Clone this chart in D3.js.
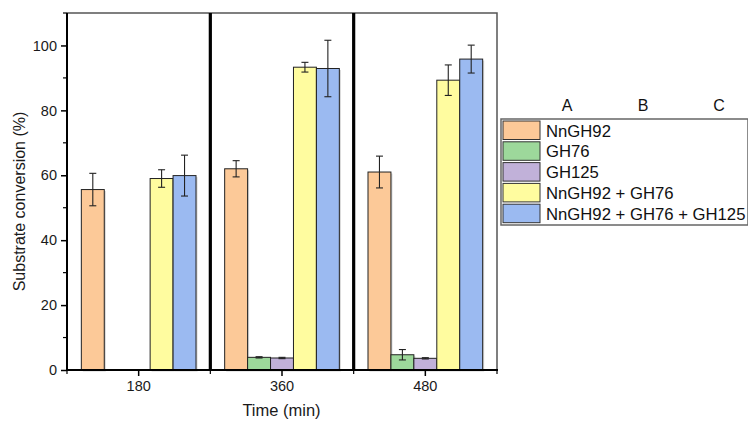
<!DOCTYPE html>
<html>
<head>
<meta charset="utf-8">
<script src="https://cdn.jsdelivr.net/npm/d3@7"></script>
<style>
  body { margin: 0; background: #fff; }
  svg { font-family: "Liberation Sans", Arial, sans-serif; }
</style>
</head>
<body>
<svg id="chart" width="748" height="422"></svg>
<script>
// data
let times = ["180", "360", "480"];
let series = ["NnGH92", "GH76", "GH125", "NnGH92 + GH76", "NnGH92 + GH76 + GH125"];
let colours = ["#fcc998", "#9dd89b", "#c1b1d9", "#fffc9f", "#9bbaf1"];
let means = [
  [55.6, 0, 0, 59.0, 59.9],
  [62.0, 3.9, 3.7, 93.3, 92.9],
  [61.0, 4.7, 3.6, 89.3, 95.8]
];
let errs = [
  [5.0, 0, 0, 2.7, 6.3],
  [2.5, 0.2, 0.2, 1.5, 8.7],
  [4.9, 1.6, 0.2, 4.7, 4.3]
];
let yTicks = [0, 20, 40, 60, 80, 100];
let yMinor = [10, 30, 50, 70, 90, 110];
let legendHeads = ["A", "B", "C"];

window.onload = function() {
  setupChart();
}

function setupChart() {
  let svg = d3.select('#chart');
  let left = 67, right = 497, top = 13, bottom = 370;

  let x = d3.scaleBand().domain(times).range([left, right]).padding(0);
  // bars take ~80% of each group
  let inner = d3.scaleBand().domain(d3.range(series.length))
    .range([x.bandwidth() * 0.1, x.bandwidth() * 0.9]).padding(0);
  let y = d3.scaleLinear().domain([0, 110]).range([bottom, top]);

  // frame (top and right, thin grey)
  svg.append('path')
    .attr('d', `M${left},${top}H${right}V${bottom}`)
    .attr('fill', 'none').attr('stroke', '#555').attr('stroke-width', 1.5);

  // bars
  let groups = svg.selectAll('.grp')
    .data(times)
    .enter().append('g')
    .attr('class', 'grp')
    .attr('transform', d => `translate(${x(d)},0)`);

  groups.each(function(t, gi) {
    let g = d3.select(this);
    let rows = series.map((s, si) => ({si: si, v: means[gi][si], e: errs[gi][si]}));
    let drawn = rows.filter(r => r.v > 0);

    // soft shadow
    g.selectAll('.shadow').data(drawn).enter().append('rect')
      .attr('x', r => inner(r.si) + 1.5)
      .attr('y', r => y(r.v) + 1.5)
      .attr('width', inner.bandwidth())
      .attr('height', r => bottom - y(r.v))
      .attr('fill', '#d4d4d4');

    g.selectAll('.bar').data(drawn).enter().append('rect')
      .attr('x', r => inner(r.si))
      .attr('y', r => y(r.v))
      .attr('width', inner.bandwidth())
      .attr('height', r => bottom - y(r.v))
      .attr('fill', r => colours[r.si])
      .attr('stroke', '#222')
      .attr('stroke-width', 1);

    // error bars
    let eb = g.selectAll('.err').data(drawn).enter().append('g')
      .attr('stroke', '#222').attr('stroke-width', 1.1);
    let cx = r => inner(r.si) + inner.bandwidth() / 2;
    eb.append('line')
      .attr('x1', cx).attr('x2', cx)
      .attr('y1', r => y(r.v + r.e)).attr('y2', r => y(r.v - r.e));
    eb.append('line')
      .attr('x1', r => cx(r) - 3.5).attr('x2', r => cx(r) + 3.5)
      .attr('y1', r => y(r.v + r.e)).attr('y2', r => y(r.v + r.e));
    eb.append('line')
      .attr('x1', r => cx(r) - 3.5).attr('x2', r => cx(r) + 3.5)
      .attr('y1', r => y(r.v - r.e)).attr('y2', r => y(r.v - r.e));
  });

  // thick separators between groups
  svg.selectAll('.sep')
    .data(times.slice(1))
    .enter().append('line')
    .attr('x1', d => x(d)).attr('x2', d => x(d))
    .attr('y1', top).attr('y2', bottom)
    .attr('stroke', '#000').attr('stroke-width', 3.2);

  // y axis
  let yAxis = d3.axisLeft(y).tickValues(yTicks).tickSize(6).tickPadding(4);
  let ya = svg.append('g').attr('transform', `translate(${left},0)`).call(yAxis);
  ya.select('.domain').attr('stroke-width', 2).attr('d', `M0,${top}V${bottom + 1}`);
  ya.selectAll('.tick line').attr('stroke-width', 1.5);
  ya.selectAll('.tick text').attr('font-size', 14.5).attr('fill', '#1a1a1a')
    .attr('font-family', '"Liberation Sans", Arial, sans-serif');
  svg.append('g').selectAll('line').data(yMinor).enter().append('line')
    .attr('x1', left - 4).attr('x2', left)
    .attr('y1', d => y(d)).attr('y2', d => y(d))
    .attr('stroke', '#000').attr('stroke-width', 1.2);

  // x axis
  let xAxis = d3.axisBottom(x).tickSize(6).tickPadding(5);
  let xa = svg.append('g').attr('transform', `translate(0,${bottom})`).call(xAxis);
  xa.select('.domain').attr('stroke-width', 2).attr('d', `M${left - 1},0H${right + 1}`);
  xa.selectAll('.tick line').attr('stroke-width', 1.5);
  xa.selectAll('.tick text').attr('font-size', 14.5).attr('fill', '#1a1a1a')
    .attr('font-family', '"Liberation Sans", Arial, sans-serif');
  svg.append('g').selectAll('line').data([left].concat(times.slice(1).map(d => x(d)), [right]))
    .enter().append('line')
    .attr('x1', d => d).attr('x2', d => d)
    .attr('y1', bottom).attr('y2', bottom + 4)
    .attr('stroke', '#000').attr('stroke-width', 1.2);

  // axis titles
  svg.append('text')
    .attr('transform', `translate(25,${(top + bottom) / 2 + 10}) rotate(-90)`)
    .attr('text-anchor', 'middle')
    .attr('font-size', 16).attr('fill', '#1a1a1a')
    .text('Substrate conversion (%)');
  svg.append('text')
    .attr('x', (left + right) / 2 - 0.5).attr('y', 416)
    .attr('text-anchor', 'middle')
    .attr('font-size', 16.5).attr('fill', '#1a1a1a')
    .text('Time (min)');

  // legend
  let lg = svg.append('g').attr('transform', 'translate(501,119)');
  let rowH = 20.8;
  lg.append('rect')
    .attr('x', 0).attr('y', 0)
    .attr('width', 247).attr('height', series.length * rowH + 2)
    .attr('fill', '#fff').attr('stroke', '#666').attr('stroke-width', 1.5);
  let legHeadX = d3.scalePoint().domain(legendHeads).range([66, 218]);
  lg.selectAll('.head').data(legendHeads).enter().append('text')
    .attr('x', d => legHeadX(d)).attr('y', -8)
    .attr('text-anchor', 'middle')
    .attr('font-size', 16).attr('fill', '#111')
    .text(d => d);
  let item = lg.selectAll('.item').data(series).enter().append('g')
    .attr('transform', (d, i) => `translate(2,${2 + i * rowH})`);
  item.append('rect')
    .attr('x', 0).attr('y', 0).attr('width', 37).attr('height', 18.5)
    .attr('fill', (d, i) => colours[i])
    .attr('stroke', '#333').attr('stroke-width', 1);
  item.append('text')
    .attr('x', 43).attr('y', 15.5)
    .attr('font-size', 16.7).attr('fill', '#111')
    .text(d => d);
}
</script>
</body>
</html>
